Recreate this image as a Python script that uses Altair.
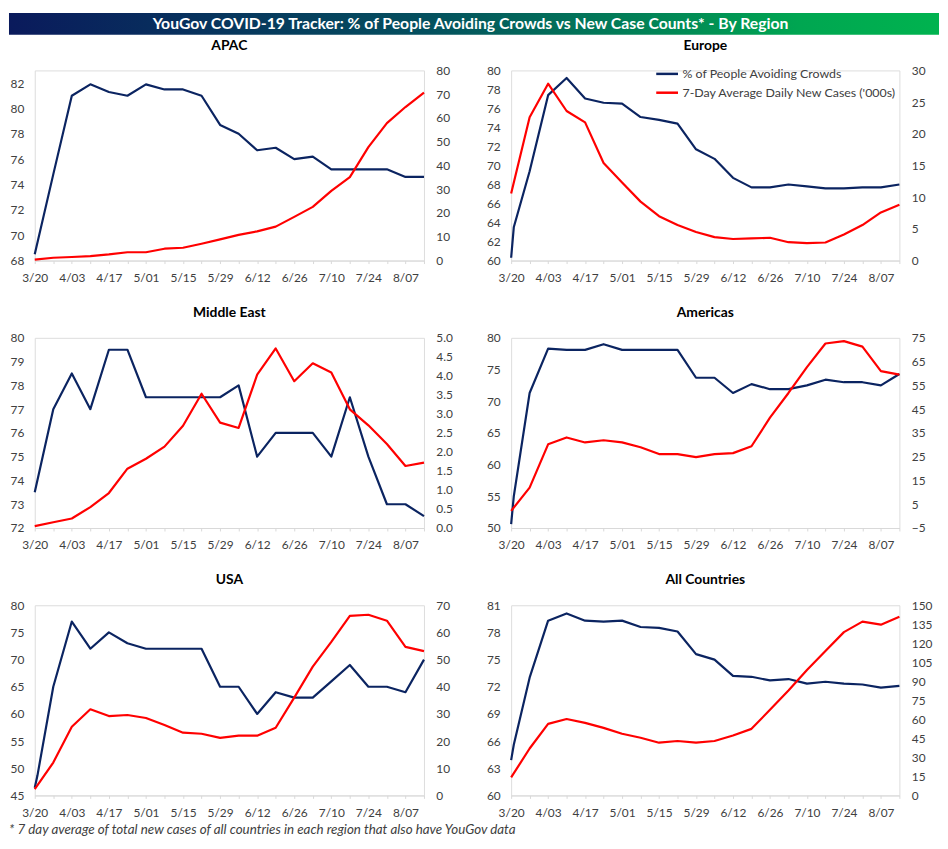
import altair as alt
import pandas as pd

FONT = "Lato"
NAVY = "#0B2461"
RED = "#FF0000"
LABEL_COLOR = "#404040"

TITLE = "YouGov COVID-19 Tracker: % of People Avoiding Crowds vs New Case Counts* - By Region"
FOOTNOTE = "* 7 day average of total new cases of all countries in each region that also have YouGov data"
CROWD_LABEL = "% of People Avoiding Crowds"
CASES_LABEL = "7-Day Average Daily New Cases ('000s)"

# weekly observation dates
DATES = ["2020-03-20", "2020-03-27", "2020-04-03", "2020-04-10", "2020-04-17", "2020-04-24",
         "2020-05-01", "2020-05-08", "2020-05-15", "2020-05-22", "2020-05-29", "2020-06-05",
         "2020-06-12", "2020-06-19", "2020-06-26", "2020-07-03", "2020-07-10", "2020-07-17",
         "2020-07-24", "2020-07-31", "2020-08-07", "2020-08-14"]
EXTRA_DATE = "2020-03-21"

REGIONS = ["APAC", "Europe", "Middle East", "Americas", "USA", "All Countries"]

CROWDS = {
    "APAC": [68.5, 74.8, 81.0, 81.9, 81.3, 81.0, 81.9, 81.5, 81.5, 81.0, 78.7, 78.0,
             76.7, 76.9, 76.0, 76.2, 75.2, 75.2, 75.2, 75.2, 74.6, 74.6],
    "Europe": [60.3, 69.4, 77.4, 79.2, 77.05, 76.6, 76.5, 75.1, 74.8, 74.4, 71.7, 70.7,
               68.7, 67.7, 67.7, 68.0, 67.8, 67.6, 67.6, 67.7, 67.7, 68.0],
    "Middle East": [73.5, 77.0, 78.5, 77.0, 79.5, 79.5, 77.5, 77.5, 77.5, 77.5, 77.5, 78.0,
                    75.0, 76.0, 76.0, 76.0, 75.0, 77.5, 75.0, 73.0, 73.0, 72.5],
    "Americas": [50.6, 71.3, 78.3, 78.1, 78.1, 79.0, 78.1, 78.1, 78.1, 78.1, 73.7, 73.7,
                 71.3, 72.7, 71.9, 71.9, 72.5, 73.4, 73.0, 73.0, 72.5, 74.3],
    "USA": [46.4, 65.0, 77.0, 72.0, 75.0, 73.0, 72.0, 72.0, 72.0, 72.0, 65.0, 65.0,
            60.0, 64.0, 63.0, 63.0, 66.0, 69.0, 65.0, 65.0, 64.0, 70.0],
    "All Countries": [63.9, 73.0, 79.3, 80.1, 79.3, 79.2, 79.3, 78.6, 78.5, 78.1, 75.6, 75.0,
                      73.2, 73.1, 72.7, 72.85, 72.35, 72.55, 72.35, 72.25, 71.9, 72.1],
}
# second survey day (3/21) where present
CROWDS_EXTRA = {"Europe": 63.5, "Americas": 55.0, "USA": 48.6, "All Countries": 65.6}

CASES = {
    "APAC": [0.4, 1.2, 1.5, 1.9, 2.6, 3.5, 3.5, 5.0, 5.4, 7.1, 8.9, 10.8,
             12.3, 14.3, 18.4, 22.6, 29.3, 35.1, 47.7, 57.8, 64.6, 70.7],
    "Europe": [10.6, 22.6, 27.9, 23.6, 21.8, 15.4, 12.3, 9.3, 7.0, 5.6, 4.5, 3.7,
               3.4, 3.5, 3.6, 2.9, 2.75, 2.85, 4.1, 5.6, 7.6, 8.8],
    "Middle East": [0.05, 0.15, 0.25, 0.55, 0.92, 1.56, 1.82, 2.14, 2.69, 3.53, 2.77, 2.63,
                    4.03, 4.72, 3.86, 4.33, 4.09, 3.12, 2.70, 2.21, 1.63, 1.72],
    "Americas": [2.2, 12.0, 30.2, 33.1, 31.0, 31.9, 31.0, 29.0, 26.1, 26.1, 24.8, 26.1,
                 26.5, 29.4, 41.4, 51.8, 62.7, 72.6, 73.6, 71.3, 61.0, 59.5],
    "USA": [2.3, 12.1, 25.3, 31.7, 29.2, 29.6, 28.5, 25.9, 23.1, 22.7, 21.2, 22.0,
            22.0, 24.9, 36.0, 47.4, 56.5, 66.1, 66.5, 64.3, 54.7, 53.1],
    "All Countries": [14.2, 37.0, 56.4, 60.3, 57.2, 53.3, 48.6, 45.5, 41.6, 42.9, 41.6, 42.9,
                      47.3, 52.5, 67.5, 82.8, 99.0, 114.0, 128.8, 137.1, 134.7, 140.9],
}

LEFT_DOMAIN = {"APAC": [68, 83], "Europe": [60, 80], "Middle East": [72, 80],
               "Americas": [50, 80], "USA": [45, 80], "All Countries": [60, 81]}
LEFT_TICKS = {"APAC": [68, 70, 72, 74, 76, 78, 80, 82],
              "Europe": [60, 62, 64, 66, 68, 70, 72, 74, 76, 78, 80],
              "Middle East": [72, 73, 74, 75, 76, 77, 78, 79, 80],
              "Americas": [50, 55, 60, 65, 70, 75, 80],
              "USA": [45, 50, 55, 60, 65, 70, 75, 80],
              "All Countries": [60, 63, 66, 69, 72, 75, 78, 81]}
RIGHT_DOMAIN = {"APAC": [0, 80], "Europe": [0, 30], "Middle East": [0, 5],
                "Americas": [-5, 75], "USA": [0, 70], "All Countries": [0, 150]}
RIGHT_TICKS = {"APAC": [0, 10, 20, 30, 40, 50, 60, 70, 80],
               "Europe": [0, 5, 10, 15, 20, 25, 30],
               "Middle East": [0, 0.5, 1.0, 1.5, 2.0, 2.5, 3.0, 3.5, 4.0, 4.5, 5.0],
               "Americas": [-5, 5, 15, 25, 35, 45, 55, 65, 75],
               "USA": [0, 10, 20, 30, 40, 50, 60, 70],
               "All Countries": [0, 15, 30, 45, 60, 75, 90, 105, 120, 135, 150]}
RIGHT_FORMAT = {"Middle East": ".1f"}

PW_LEFT, PW_RIGHT, PH = 393, 392, 192
HSPACE, VSPACE = 88, 78
LEFT_OVER = 26          # room taken by the left axis labels
BANNER_TOP = -58        # banner position relative to the first panel's plot area
BANNER_H = 22
TOTAL_W = 939


def ms(d):
    return int(pd.Timestamp(d, tz="UTC").value // 10**6)


T0 = ms(DATES[0])
T1 = ms(DATES[-1])
WEEK_TICKS = [ms(d) for d in DATES]

x_axis = alt.Axis(
    values=WEEK_TICKS, title=None, grid=False, domainColor="#d9d9d9", tickColor="#d9d9d9",
    tickSize=3, labelPadding=9, labelFlush=False, labelOverlap=False,
    labelFont=FONT, labelFontSize=12, labelColor=LABEL_COLOR,
    labelExpr=f"(round((datum.value - {T0}) / 86400000) % 14 == 0) ? utcFormat(datum.value, '%-m/%d') : ''",
)


def color_enc(with_legend):
    legend = None
    if with_legend:
        legend = alt.Legend(orient="none", legendX=145, legendY=-9, title=None,
                            direction="vertical", symbolType="stroke", symbolStrokeWidth=2.5,
                            symbolSize=484, labelFont=FONT, labelFontSize=12.5,
                            labelColor=LABEL_COLOR, labelLimit=0, rowPadding=-1, labelOffset=3)
    return alt.Color("series:N",
                     scale=alt.Scale(domain=[CROWD_LABEL, CASES_LABEL], range=[NAVY, RED]),
                     legend=legend)


def banner_layers():
    df = pd.DataFrame({"t": [TITLE]})
    grad = alt.Gradient(gradient="linear", x1=0, x2=1, y1=0, y2=0,
                        stops=[alt.GradientStop(offset=0, color="#0A1A5C"),
                               alt.GradientStop(offset=0.45, color="#04505E"),
                               alt.GradientStop(offset=0.85, color="#00A651"),
                               alt.GradientStop(offset=1, color="#00B34F")])
    bar = alt.Chart(df).mark_rect(fill=grad).encode(
        x=alt.value(-LEFT_OVER), x2=alt.value(TOTAL_W - LEFT_OVER),
        y=alt.value(BANNER_TOP), y2=alt.value(BANNER_TOP + BANNER_H))
    txt = alt.Chart(df).mark_text(color="white", fontWeight="bold", fontSize=15.9, font=FONT,
                                  align="center", baseline="middle").encode(
        x=alt.value(440), y=alt.value(BANNER_TOP + BANNER_H / 2 + 0.5), text="t:N")
    return [bar, txt]


def footnote_layer():
    df = pd.DataFrame({"t": [FOOTNOTE]})
    return alt.Chart(df).mark_text(align="left", baseline="middle", fontStyle="italic",
                                   fontSize=13.5, font=FONT, color=LABEL_COLOR).encode(
        x=alt.value(-LEFT_OVER), y=alt.value(PH + 35), text="t:N")


def title_layer(region, width):
    df = pd.DataFrame({"t": [region]})
    return alt.Chart(df).mark_text(align="center", baseline="middle", fontWeight="bold",
                                   fontSize=14, font=FONT, color="#000000").encode(
        x=alt.value(width / 2), y=alt.value(-25), text="t:N")


def panel(region, width):
    c_dates = list(DATES)
    c_vals = list(CROWDS[region])
    if region in CROWDS_EXTRA:
        c_dates = [DATES[0], EXTRA_DATE] + DATES[1:]
        c_vals = [c_vals[0], CROWDS_EXTRA[region]] + c_vals[1:]
    df_c = pd.DataFrame({"date": c_dates, "value": c_vals, "series": CROWD_LABEL})
    df_r = pd.DataFrame({"date": DATES, "value": CASES[region], "series": CASES_LABEL})
    x = alt.X("date:T", scale=alt.Scale(type="utc", domain=[T0, T1]), axis=x_axis)
    left_axis = alt.Axis(values=LEFT_TICKS[region], orient="left", title=None, grid=False,
                         domain=False, ticks=False, labelPadding=11, labelFont=FONT,
                         labelFontSize=12, labelColor=LABEL_COLOR)
    rkw = {}
    if region in RIGHT_FORMAT:
        rkw["format"] = RIGHT_FORMAT[region]
    right_axis = alt.Axis(values=RIGHT_TICKS[region], orient="right", title=None, grid=False,
                          domain=False, ticks=False, labelPadding=12, labelFont=FONT,
                          labelFontSize=12, labelColor=LABEL_COLOR, **rkw)
    show_legend = region == "Europe"
    navy = alt.Chart(df_c).mark_line(strokeWidth=2.2, strokeJoin="round").encode(
        x=x,
        y=alt.Y("value:Q", scale=alt.Scale(domain=LEFT_DOMAIN[region], nice=False, zero=False),
                axis=left_axis),
        color=color_enc(show_legend),
    )
    red = alt.Chart(df_r).mark_line(strokeWidth=2.2, strokeJoin="round").encode(
        x=x,
        y=alt.Y("value:Q", scale=alt.Scale(domain=RIGHT_DOMAIN[region], nice=False, zero=False),
                axis=right_axis),
        color=color_enc(show_legend),
    )
    layers = [navy, red, title_layer(region, width)]
    if region == "APAC":
        layers = banner_layers() + layers
    if region == "USA":
        layers = layers + [footnote_layer()]
    return alt.layer(*layers).resolve_scale(y="independent").properties(width=width, height=PH)


panels = [panel(r, PW_LEFT if i % 2 == 0 else PW_RIGHT) for i, r in enumerate(REGIONS)]

chart = alt.concat(
    *panels, columns=2, bounds="flush",
    spacing=alt.RowColnumber(row=VSPACE, column=HSPACE),
).resolve_scale(color="independent").properties(padding=0).configure_view(
    strokeWidth=0).configure(background="white")

chart.save("out.html", embed_options={"renderer": "svg", "actions": False})
